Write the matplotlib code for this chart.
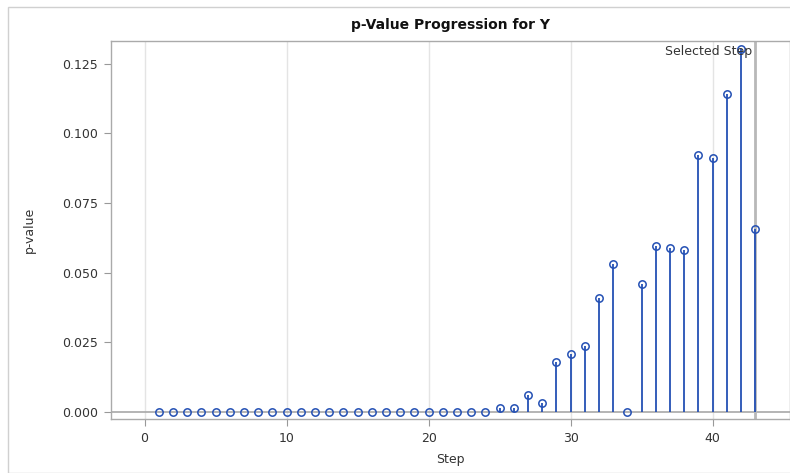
import matplotlib
matplotlib.use("Agg")
import matplotlib.pyplot as plt
from matplotlib.patches import Rectangle

steps = list(range(1, 44))
pvalues = [0.0] * 24 + [
    0.0015, 0.0013, 0.0062, 0.0033, 0.0178, 0.0209, 0.0235, 0.0407, 0.0530,
    0.0, 0.0460, 0.0597, 0.0587, 0.0581, 0.0922, 0.0911, 0.1141, 0.1303, 0.0657,
]
selected_step = 43
xticks = [0, 10, 20, 30, 40]
yticks = [0.000, 0.025, 0.050, 0.075, 0.100, 0.125]

W, H = 790, 473
fig = plt.figure(figsize=(W / 100, H / 100), dpi=100)
fig.patches.append(Rectangle((8 / W, 0), 1.0, 1 - 7 / H, transform=fig.transFigure,
                             fill=False, edgecolor="#d0d0d0", linewidth=1.0))
ax = fig.add_axes([110.8 / W, 1 - 419 / H, (790 - 110.8) / W, (419 - 41) / H])

blue = "#2450b4"
txt = "#333333"
for x in xticks:
    ax.axvline(x, color="#e4e4e4", linewidth=1.0, zorder=0)
ax.axhline(0, color="#a8a8a8", linewidth=1.2, zorder=1)
ax.axvline(selected_step, color="#b8b8b8", linewidth=2.0, zorder=1)

ax.vlines(steps, 0, pvalues, color=blue, linewidth=1.3, zorder=2)
ax.plot(steps, pvalues, linestyle="none", marker="o", markersize=5.3,
        markerfacecolor="none", markeredgecolor=blue, markeredgewidth=1.1, zorder=3)

ax.text(selected_step - 0.25, 0.1295, "Selected Step", ha="right", va="center",
        fontsize=9, color=txt, zorder=4)

ax.set_xlim(-2.38, 45.45)
ax.set_ylim(-0.0026, 0.1332)
ax.set_xticks(xticks)
ax.set_yticks(yticks)
ax.set_yticklabels([f"{v:.3f}" for v in yticks])
ax.tick_params(direction="out", length=5, width=0.8, color="#999999",
               labelsize=9, labelcolor=txt, pad=4)
for s in ax.spines.values():
    s.set_color("#aaaaaa")
    s.set_linewidth(1.0)

ax.set_xlabel("Step", fontsize=9, color=txt, labelpad=6)
ax.set_ylabel("p-value", fontsize=9, color=txt, labelpad=19)
ax.set_title("p-Value Progression for Y", fontsize=10, fontweight="bold", color="#111111", pad=9)

fig.savefig("out.png", dpi=100)
